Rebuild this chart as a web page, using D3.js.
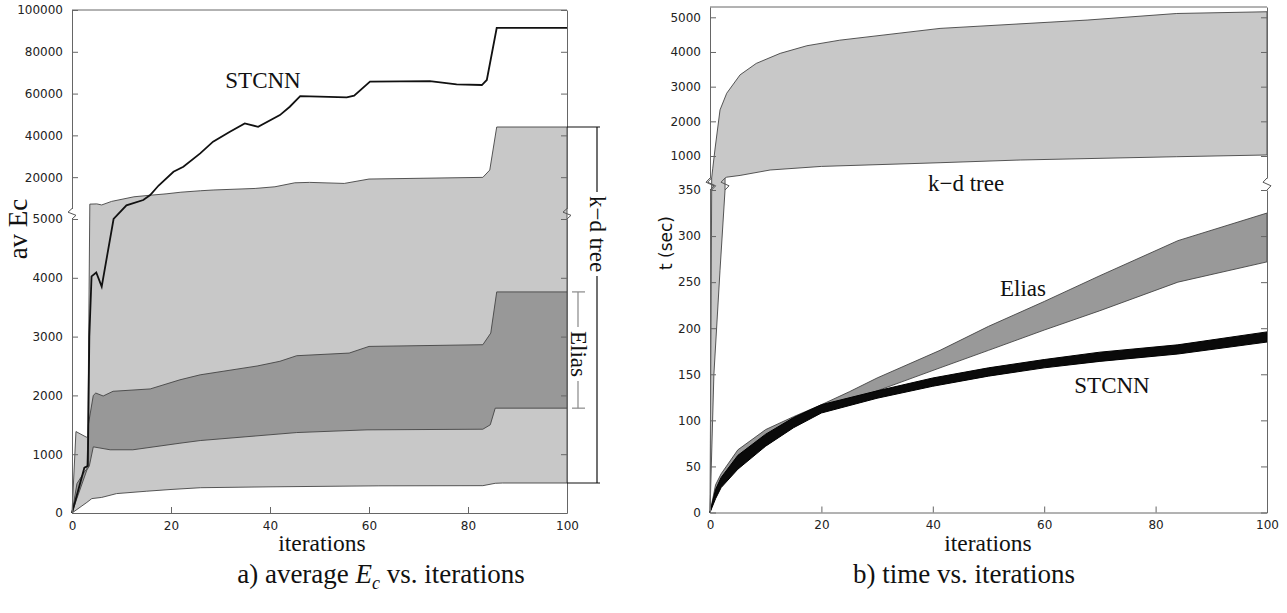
<!DOCTYPE html>
<html lang="en">
<head>
<meta charset="utf-8">
<title>Ec and time vs. iterations</title>
<script src="https://cdnjs.cloudflare.com/ajax/libs/d3/7.8.5/d3.min.js"></script>
<style>
	html, body { margin: 0; padding: 0; background: white; }
	svg { display: block; }
	.axis text { font-family: "DejaVu Sans", sans-serif; font-size: 12px; fill: #222; }
	.axis path, .axis line { stroke: #666; stroke-width: 1; }
	.serif { font-family: "Liberation Serif", "Times New Roman", serif; fill: #111; }
</style>
</head>
<body>
<svg id="chart" width="1287" height="613"></svg>
<script>

// ---------------------------------------------
// data: [iteration, value]
// ---------------------------------------------

// a) average Ec
var kdLowA = [[0,0],[1,60],[2,120],[3,180],[4,245],[6,265],[9,330],[15,370],[20,400],[26,430],[40,445],[62,462],[83,465],[85.5,505],[87,510],[100,510]];
var kdHighA = [[0,0],[0.8,1385],[2.9,1290],[3.2,1300],[3.6,7100],[5,7200],[6,6700],[8,8400],[12.5,10600],[16,11400],[19,12000],[22,12800],[26,13500],[28.5,13850],[37,14600],[41,15400],[45,17300],[48,17500],[55,17000],[60,19100],[83,19900],[84.4,23400],[85.8,44000],[100,44000]];
var eliasHighA = [[0,0],[1,500],[2.5,700],[3,750],[3.3,1500],[4.3,2000],[4.8,2040],[6.3,1990],[8.3,2070],[15.8,2110],[21.8,2265],[25.9,2350],[37.4,2500],[42,2580],[45.4,2675],[56,2720],[60,2833],[83,2862],[84.6,3060],[85.8,3760],[100,3760]];
var eliasLowA = [[0,0],[1,250],[3,730],[3.5,800],[4.3,1125],[7.7,1075],[12.3,1075],[21.8,1187],[25.9,1232],[45.4,1368],[59.6,1414],[83,1425],[84.5,1500],[85.5,1783],[100,1783]];
var stcnnA = [[0,0],[2.5,770],[3.2,800],[3.5,3000],[3.95,4025],[4.9,4090],[6,3850],[8.4,5000],[11,6500],[14.4,9070],[15.8,11460],[17.5,16000],[20.5,22600],[22.5,25000],[25.9,31400],[28.5,37000],[31.9,41700],[34.9,45700],[37.6,44100],[42,49700],[44,53700],[46.1,58800],[50,58500],[55.5,58200],[57,59000],[60.2,65700],[72.3,66000],[77.7,64400],[82.8,64100],[83.8,66500],[85.8,91400],[100,91400]];

// b) time (sec)
var kdHighB = [[0,0],[0.3,350],[0.3,366],[0.5,650],[0.9,1200],[1.8,2330],[3,2810],[5.4,3340],[8.3,3670],[12.6,3960],[17.4,4180],[23.3,4340],[41.3,4680],[67.7,4920],[83.8,5110],[100,5160]];
var kdLowB = [[0,0],[0.7,150],[1.8,263],[2.7,350],[2.7,366],[3,390],[5.4,440],[10.8,597],[20,700],[41.3,807],[55.7,885],[83.8,980],[100,1030]];
var eliasHighB = [[0,0],[1,30],[2,42],[5,68],[10,90],[15,104],[20,117],[25,131],[30,146],[41.3,176],[50,202],[60,229],[70,257],[84,295],[100,325]];
var eliasLowB = [[0,0],[1,22],[2,34],[5,58],[10,82],[15,98],[20,110],[25,121],[30,132],[41.3,157],[50,176],[60,198],[70,219],[84,250],[100,272]];
var stcnnHighB = [[0,0],[1,25],[2,38],[5,62],[10,85],[15,103],[20,117],[30,132],[40,146],[50,157],[60,166],[70,174],[84,182],[100,196]];
var stcnnLowB = [[0,0],[1,15],[2,27],[5,47],[10,72],[15,92],[20,108],[30,124],[40,137],[50,148],[60,157],[70,164],[84,172],[100,185]];

// tick values
var xTicks = [0, 20, 40, 60, 80, 100];
var yTicksLowA = [0, 1000, 2000, 3000, 4000, 5000];
var yTicksHighA = [20000, 40000, 60000, 80000, 100000];
var yTicksLowB = [0, 50, 100, 150, 200, 250, 300, 350];
var yTicksHighB = [1000, 2000, 3000, 4000, 5000];

var svg = d3.select("#chart");
var fmt = d3.format("d");

//---------------------------------------------
// scales (broken y axes = two linear pieces)
//---------------------------------------------
var xA = d3.scaleLinear().domain([0, 100]).range([72, 567]);
var yLowA = d3.scaleLinear().domain([0, 5000]).range([513, 219]);
var yHighA = d3.scaleLinear().domain([5000, 100000]).range([208.5, 10]);
function yA(v) { return v <= 5000 ? yLowA(v) : yHighA(v); }

var xB = d3.scaleLinear().domain([0, 100]).range([710, 1267]);
var yLowB = d3.scaleLinear().domain([0, 350]).range([512.5, 190]);
var yHighB = d3.scaleLinear().domain([366, 5297]).range([178, 7]);
function yB(v) { return v <= 350 ? yLowB(v) : yHighB(v); }

var lineA = d3.line().x(function(d){ return xA(d[0]); }).y(function(d){ return yA(d[1]); });
var lineB = d3.line().x(function(d){ return xB(d[0]); }).y(function(d){ return yB(d[1]); });

// band = upper edge, then lower edge backwards
function band(line, hi, lo) {
	return line(hi.concat(lo.slice().reverse())) + "Z";
}

function zigzag(g, x, y0, y1) {
	var h = y1 - y0;
	g.append("path")
		.attr("d", "M" + x + "," + y0 + "L" + (x - 4) + "," + (y0 + h * 0.35) + "L" + (x + 4) + "," + (y0 + h * 0.65) + "L" + x + "," + y1)
		.style("fill", "none").style("stroke", "#555").style("stroke-width", 1);
}

//---------------------------------------------
// a) average Ec
//---------------------------------------------
var ga = svg.append("g");

ga.append("path").attr("d", band(lineA, kdHighA, kdLowA))
	.style("fill", "#c8c8c8").style("stroke", "#444").style("stroke-width", 0.9);
ga.append("path").attr("d", band(lineA, eliasHighA, eliasLowA))
	.style("fill", "#989898").style("stroke", "#444").style("stroke-width", 0.9);
ga.append("path").attr("d", lineA(stcnnA))
	.style("fill", "none").style("stroke", "#111").style("stroke-width", 1.8);

// axes
ga.append("g").attr("class", "axis").attr("transform", "translate(" + xA(0) + ",0)")
	.call(d3.axisLeft(yLowA).tickValues(yTicksLowA).tickFormat(fmt).tickSize(-6).tickSizeOuter(0).tickPadding(9));
ga.append("g").attr("class", "axis").attr("transform", "translate(" + xA(0) + ",0)")
	.call(d3.axisLeft(yHighA).tickValues(yTicksHighA).tickFormat(fmt).tickSize(-6).tickSizeOuter(0).tickPadding(9));
ga.append("g").attr("class", "axis").attr("transform", "translate(" + xA(100) + ",0)")
	.call(d3.axisRight(yLowA).tickValues(yTicksLowA).tickSize(-6).tickSizeOuter(0).tickFormat(""));
ga.append("g").attr("class", "axis").attr("transform", "translate(" + xA(100) + ",0)")
	.call(d3.axisRight(yHighA).tickValues(yTicksHighA).tickSize(-6).tickSizeOuter(0).tickFormat(""));
ga.append("g").attr("class", "axis").attr("transform", "translate(0," + yLowA(0) + ")")
	.call(d3.axisBottom(xA).tickValues(xTicks).tickFormat(fmt).tickSize(-6).tickSizeOuter(0).tickPadding(8));
ga.append("line").attr("x1", xA(0)).attr("x2", xA(100)).attr("y1", yHighA(100000)).attr("y2", yHighA(100000))
	.style("stroke", "#666");
zigzag(ga, xA(0), yHighA(5000), yLowA(5000));
zigzag(ga, xA(100), yHighA(5000), yLowA(5000));

// brackets on the right
var kdTop = yA(kdHighA[kdHighA.length - 1][1]), kdBot = yA(kdLowA[kdLowA.length - 1][1]);
var elTop = yA(eliasHighA[eliasHighA.length - 1][1]), elBot = yA(eliasLowA[eliasLowA.length - 1][1]);

function bracket(g, x, x0, x1, top, bot, label, cy, color) {
	var t = g.append("text").attr("class", "serif")
		.attr("transform", "translate(" + x + "," + cy + ") rotate(90)")
		.attr("text-anchor", "middle").attr("dominant-baseline", "central")
		.style("font-size", "23px").text(label);
	var half = t.node().getComputedTextLength() / 2 + 4;
	[[top, cy - half], [cy + half, bot]].forEach(function(s) {
		g.append("line").attr("x1", x).attr("x2", x).attr("y1", s[0]).attr("y2", s[1])
			.style("stroke", color).style("stroke-width", 1.2);
	});
	[top, bot].forEach(function(y) {
		g.append("line").attr("x1", x0).attr("x2", x1).attr("y1", y).attr("y2", y)
			.style("stroke", color).style("stroke-width", 1.2);
	});
}
bracket(ga, 597, 567, 600, kdTop, kdBot, "k\u2212d tree", 234, "#111");
bracket(ga, 578, 572, 585, elTop, elBot, "Elias", 354, "#888");

ga.append("text").attr("class", "serif").attr("x", 263).attr("y", 88)
	.attr("text-anchor", "middle").style("font-size", "23px").text("STCNN");

ga.append("text").attr("class", "serif")
	.attr("transform", "translate(27,229) rotate(-90)")
	.attr("text-anchor", "middle").style("font-size", "27px").text("av Ec");

ga.append("text").attr("class", "serif").attr("x", 322).attr("y", 551)
	.attr("text-anchor", "middle").style("font-size", "23.5px").text("iterations");

var capA = ga.append("text").attr("class", "serif").attr("x", 381).attr("y", 583)
	.attr("text-anchor", "middle").style("font-size", "27px");
capA.append("tspan").text("a) average ");
capA.append("tspan").style("font-style", "italic").text("E");
capA.append("tspan").style("font-style", "italic").style("font-size", "18px").attr("dy", 6).text("c");
capA.append("tspan").attr("dy", -6).text(" vs. iterations");

//---------------------------------------------
// b) time vs. iterations
//---------------------------------------------
var gb = svg.append("g");

gb.append("path").attr("d", band(lineB, kdHighB, kdLowB))
	.style("fill", "#c8c8c8").style("stroke", "#444").style("stroke-width", 0.9);
gb.append("path").attr("d", band(lineB, eliasHighB, eliasLowB))
	.style("fill", "#999999").style("stroke", "#444").style("stroke-width", 0.9);
gb.append("path").attr("d", band(lineB, stcnnHighB, stcnnLowB))
	.style("fill", "#0a0a0a").style("stroke", "#000").style("stroke-width", 1);

gb.append("g").attr("class", "axis").attr("transform", "translate(" + xB(0) + ",0)")
	.call(d3.axisLeft(yLowB).tickValues(yTicksLowB).tickFormat(fmt).tickSize(-6).tickSizeOuter(0).tickPadding(9));
gb.append("g").attr("class", "axis").attr("transform", "translate(" + xB(0) + ",0)")
	.call(d3.axisLeft(yHighB).tickValues(yTicksHighB).tickFormat(fmt).tickSize(-6).tickSizeOuter(0).tickPadding(9));
gb.append("g").attr("class", "axis").attr("transform", "translate(" + xB(100) + ",0)")
	.call(d3.axisRight(yLowB).tickValues(yTicksLowB).tickSize(-6).tickSizeOuter(0).tickFormat(""));
gb.append("g").attr("class", "axis").attr("transform", "translate(" + xB(100) + ",0)")
	.call(d3.axisRight(yHighB).tickValues(yTicksHighB).tickSize(-6).tickSizeOuter(0).tickFormat(""));
gb.append("g").attr("class", "axis").attr("transform", "translate(0," + yLowB(0) + ")")
	.call(d3.axisBottom(xB).tickValues(xTicks).tickFormat(fmt).tickSize(-6).tickSizeOuter(0).tickPadding(8));
gb.append("line").attr("x1", xB(0)).attr("x2", xB(100)).attr("y1", yHighB.range()[1]).attr("y2", yHighB.range()[1])
	.style("stroke", "#666");
zigzag(gb, xB(0), yHighB.range()[0], yLowB(350));
zigzag(gb, xB(100), yHighB.range()[0], yLowB(350));
// the k-d band edges also cross the break
zigzag(gb, xB(kdHighB[1][0]), yHighB.range()[0], yLowB(350));
zigzag(gb, xB(kdLowB[3][0]), yHighB.range()[0], yLowB(350));

gb.append("text").attr("class", "serif").attr("x", 966).attr("y", 191)
	.attr("text-anchor", "middle").style("font-size", "23px").text("k\u2212d tree");
gb.append("text").attr("class", "serif").attr("x", 1023).attr("y", 296)
	.attr("text-anchor", "middle").style("font-size", "23px").text("Elias");
gb.append("text").attr("class", "serif").attr("x", 1112).attr("y", 393)
	.attr("text-anchor", "middle").style("font-size", "23px").text("STCNN");

gb.append("text")
	.attr("transform", "translate(672,243) rotate(-90)")
	.attr("text-anchor", "middle")
	.style("font-family", "'DejaVu Sans', sans-serif").style("font-size", "17px").style("fill", "#111")
	.text("t (sec)");

gb.append("text").attr("class", "serif").attr("x", 988).attr("y", 551)
	.attr("text-anchor", "middle").style("font-size", "23.5px").text("iterations");

gb.append("text").attr("class", "serif").attr("x", 964).attr("y", 583)
	.attr("text-anchor", "middle").style("font-size", "27px").text("b) time vs. iterations");

</script>
</body>
</html>
